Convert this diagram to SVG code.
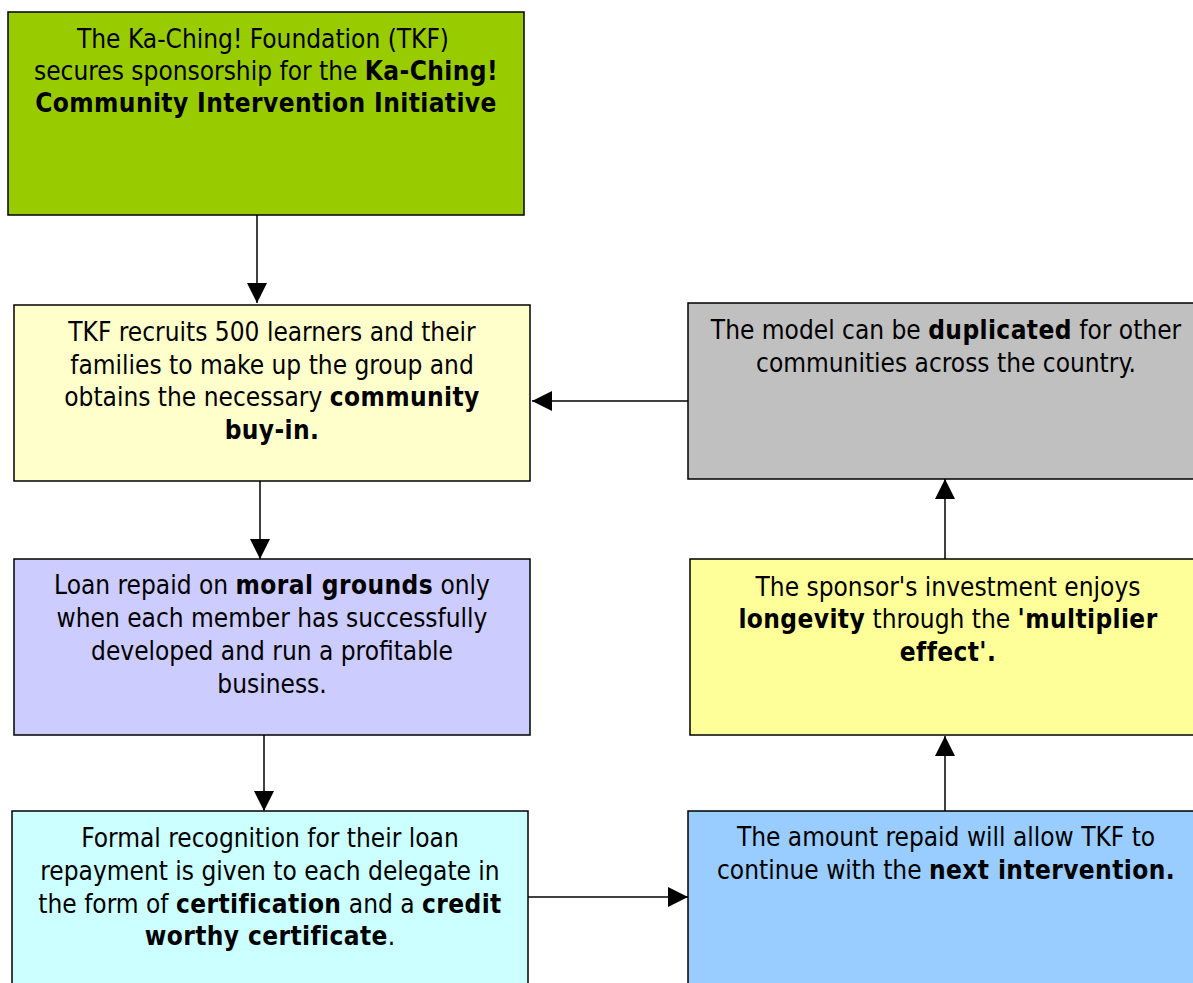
<svg xmlns="http://www.w3.org/2000/svg" width="1193" height="983" viewBox="0 0 1193 983">
<style>
.box{stroke:#000;stroke-width:1.5}
.t{font-family:"DejaVu Sans Condensed","DejaVu Sans",sans-serif;font-size:26px;fill:#000;text-anchor:middle}
.b{font-weight:bold;letter-spacing:0.4px}
.c{stroke:#000;stroke-width:1.5;fill:none;marker-end:url(#ah)}
</style>
<defs>
<marker id="ah" markerUnits="userSpaceOnUse" markerWidth="20" markerHeight="20" refX="20" refY="10" orient="auto" viewBox="0 0 20 20">
<path d="M0,0 L20,10 L0,20 z" fill="#000"/>
</marker>
</defs>
<rect width="1193" height="983" fill="#fff"/>
<g id="n1">
<rect class="box" x="8" y="12" width="516" height="203" fill="#99CC00"/>
<text class="t" x="263" y="48">The Ka-Ching! Foundation (TKF)</text>
<text class="t" x="266" y="80">secures sponsorship for the <tspan class="b">Ka-Ching!</tspan></text>
<text class="t b" x="266" y="112">Community Intervention Initiative</text>
</g>
<g id="n2">
<rect class="box" x="14" y="305" width="516" height="176" fill="#FFFFCC"/>
<text class="t" x="272" y="341">TKF recruits 500 learners and their</text>
<text class="t" x="272" y="374">families to make up the group and</text>
<text class="t" x="272" y="406">obtains the necessary <tspan class="b">community</tspan></text>
<text class="t b" x="272" y="439">buy-in.</text>
</g>
<g id="n3">
<rect class="box" x="688" y="303" width="516" height="176" fill="#C0C0C0"/>
<text class="t" x="946" y="339">The model can be <tspan class="b">duplicated</tspan> for other</text>
<text class="t" x="946" y="372">communities across the country.</text>
</g>
<g id="n4">
<rect class="box" x="14" y="559" width="516" height="176" fill="#CCCCFF"/>
<text class="t" x="272" y="594">Loan repaid on <tspan class="b">moral grounds</tspan> only</text>
<text class="t" x="272" y="627">when each member has successfully</text>
<text class="t" x="272" y="660">developed and run a profitable</text>
<text class="t" x="272" y="693">business.</text>
</g>
<g id="n5">
<rect class="box" x="690" y="559" width="516" height="176" fill="#FFFF99"/>
<text class="t" x="948" y="596">The sponsor's investment enjoys</text>
<text class="t" x="948" y="628"><tspan class="b">longevity</tspan> through the <tspan class="b">'multiplier</tspan></text>
<text class="t b" x="948" y="661">effect'.</text>
</g>
<g id="n6">
<rect class="box" x="12" y="811" width="516" height="190" fill="#CCFFFF"/>
<text class="t" x="270" y="847">Formal recognition for their loan</text>
<text class="t" x="270" y="880">repayment is given to each delegate in</text>
<text class="t" x="270" y="913">the form of <tspan class="b">certification</tspan> and a <tspan class="b">credit</tspan></text>
<text class="t" x="270" y="945"><tspan class="b">worthy certificate</tspan>.</text>
</g>
<g id="n7">
<rect class="box" x="688" y="811" width="516" height="190" fill="#99CCFF"/>
<text class="t" x="946" y="846">The amount repaid will allow TKF to</text>
<text class="t" x="946" y="879">continue with the <tspan class="b">next intervention.</tspan></text>
</g>
<g id="connectors">
<line class="c" x1="257" y1="215" x2="257" y2="303"/>
<line class="c" x1="260" y1="481" x2="260" y2="559"/>
<line class="c" x1="264" y1="735" x2="264" y2="811"/>
<line class="c" x1="528" y1="897" x2="688" y2="897"/>
<line class="c" x1="945" y1="811" x2="945" y2="736"/>
<line class="c" x1="945" y1="559" x2="945" y2="479"/>
<line class="c" x1="688" y1="401" x2="532" y2="401"/>
</g>
</svg>
